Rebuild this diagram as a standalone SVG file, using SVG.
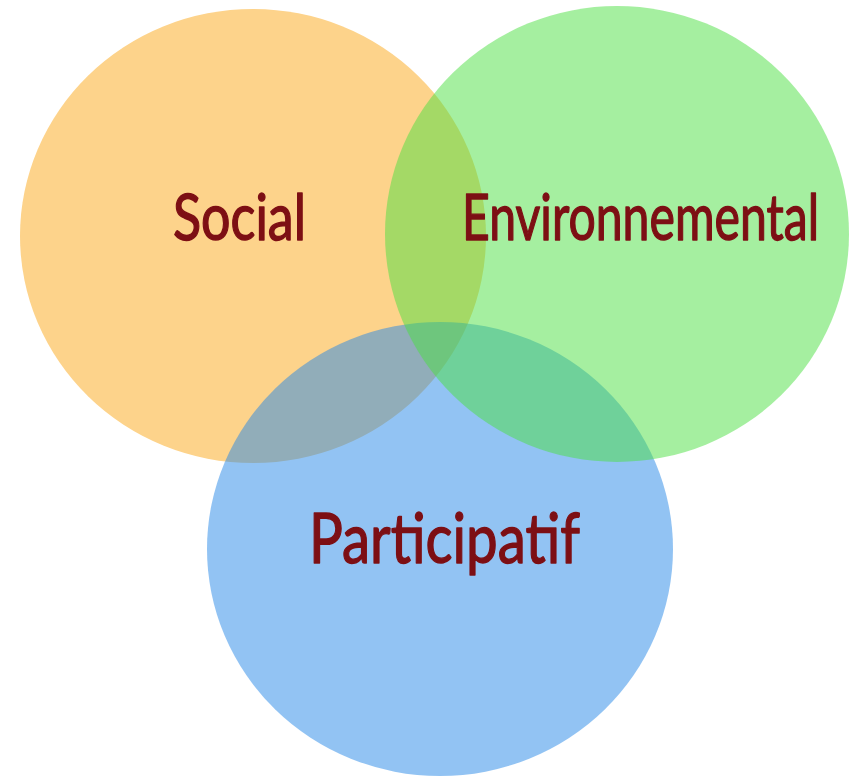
<svg xmlns="http://www.w3.org/2000/svg" width="852" height="776" viewBox="0 0 852 776">
<style>
.c{opacity:0.5}
.t{font-family:Lato,"Liberation Sans",sans-serif;font-weight:normal;fill:#7D0F14;stroke:#7D0F14;stroke-width:1.4;stroke-linejoin:round}
</style>
<rect width="852" height="776" fill="#ffffff"/>
<g id="social">
<ellipse cx="253" cy="236" rx="233" ry="227" fill="#FDD38B"/>
</g>
<g id="participatif">
<ellipse class="c" cx="440" cy="549" rx="233" ry="227" fill="#2587E7"/>
</g>
<g id="environnemental">
<ellipse class="c" cx="617" cy="234" rx="232" ry="228" fill="#4BDF41"/>
</g>
<g id="labels">
<text class="t" x="173" y="240" font-size="64" textLength="133" lengthAdjust="spacingAndGlyphs">Social</text>
<text class="t" x="462" y="240" font-size="64" textLength="357" lengthAdjust="spacingAndGlyphs">Environnemental</text>
<text class="t" x="309" y="563" font-size="70" textLength="271" lengthAdjust="spacingAndGlyphs">Participatif</text>
</g>
</svg>
